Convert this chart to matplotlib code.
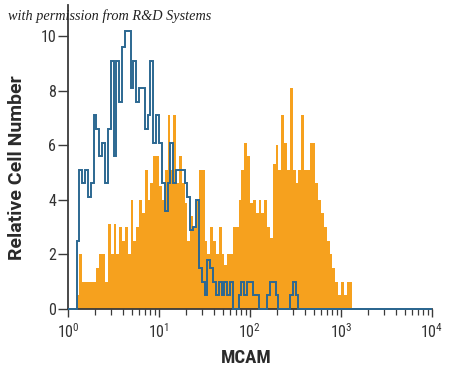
import numpy as np
import matplotlib
matplotlib.use("Agg")
import matplotlib.pyplot as plt
from matplotlib.ticker import LogLocator, NullFormatter

# 128 log-spaced channels from 10^0 to 10^4 (32 per decade)
n_bins = 128
decade_min, decade_max = 0, 4

isotype_blue = [
    0, 0, 0, 2.5, 5.1, 4.6, 5.1, 4.1, 4.6, 7.1, 6.6, 5.6, 6.1, 4.6, 6.6, 9.1,
    5.6, 9.1, 7.6, 9.6, 10.2, 10.2, 8.1, 9.1, 7.6, 8.1, 8.1, 6.6, 7.1, 9.1, 6.1, 7.1,
    6.1, 4.6, 3.6, 4.6, 6.1, 4.6, 5.1, 5.1, 5.1, 4.6, 4.1, 2.9, 3.0, 4.0, 1.5, 1.0,
    0.5, 1.8, 1.5, 1.0, 0.5, 1.0, 0.5, 1.0, 0.5, 1.0, 0, 0, 0.5, 1.0, 0.5, 1.0,
    1.0, 0.5, 0.5, 0, 0, 0, 0.5, 1.0, 1.0, 0.5, 0, 0, 0, 0, 0.5, 1.0,
    0.5, 0, 0, 0, 0, 0, 0, 0, 0, 0, 0, 0, 0, 0, 0, 0,
    0, 0, 0, 0, 0, 0, 0, 0, 0, 0, 0, 0, 0, 0, 0, 0,
    0, 0, 0, 0, 0, 0, 0, 0, 0, 0, 0, 0, 0, 0, 0, 0,
]

mcam_orange = [
    0, 0, 0, 0.5, 2.0, 1.0, 1.0, 1.0, 1.0, 1.0, 1.5, 2.0, 2.0, 1.0, 3.1, 2.0,
    3.1, 2.0, 3.0, 2.5, 3.0, 2.0, 4.0, 2.5, 3.0, 4.0, 3.5, 5.1, 4.0, 4.6, 5.6, 5.6,
    4.5, 4.0, 5.1, 7.1, 5.1, 7.1, 4.6, 5.6, 4.6, 3.9, 2.5, 3.4, 3.0, 4.0, 5.1, 5.1,
    2.5, 2.0, 3.0, 2.5, 2.0, 3.0, 2.0, 1.6, 2.0, 2.0, 3.0, 3.0, 4.0, 5.1, 6.1, 5.6,
    3.9, 4.0, 3.5, 4.0, 3.5, 4.0, 3.0, 2.6, 5.3, 6.0, 5.1, 7.1, 6.1, 5.1, 8.1, 5.1,
    4.6, 5.1, 7.1, 5.1, 5.1, 6.1, 6.1, 4.6, 4.0, 3.5, 3.0, 2.5, 2.0, 1.5, 1.0, 0.5,
    1.0, 0.5, 1.0, 1.0, 0, 0, 0, 0, 0, 0, 0, 0, 0, 0, 0, 0,
    0, 0, 0, 0, 0, 0, 0, 0, 0, 0, 0, 0, 0, 0, 0, 0,
]

y_ticks = [0, 2, 4, 6, 8, 10]
x_ticks = [1, 10, 100, 1000, 10000]
x_tick_labels = [r"$\mathregular{10^{0}}$", r"$\mathregular{10^{1}}$",
                 r"$\mathregular{10^{2}}$", r"$\mathregular{10^{3}}$",
                 r"$\mathregular{10^{4}}$"]
x_label = "MCAM"
y_label = "Relative Cell Number"
credit = "with permission from R&D Systems"

ORANGE = "#F6A11E"
BLUE = "#2C6892"
AXIS = "#3a3a3a"

plt.rcParams["font.family"] = ["Roboto Condensed", "Roboto", "DejaVu Sans"]
plt.rcParams["mathtext.default"] = "regular"

edges = np.logspace(decade_min, decade_max, n_bins + 1)

fig = plt.figure(figsize=(4.5, 3.71), dpi=100)
ax = fig.add_axes([68 / 450, 62 / 371, 364 / 450, 304 / 371])

ax.stairs(mcam_orange, edges, fill=True, color=ORANGE, zorder=2, linewidth=0)
ax.stairs(isotype_blue, edges, color=BLUE, linewidth=1.4, zorder=3,
          clip_on=False, baseline=0)

ax.set_xscale("log")
ax.set_xlim(1, 10000)
ax.set_ylim(0, 11.14)

for s in ["top", "right"]:
    ax.spines[s].set_visible(False)
for s in ["left", "bottom"]:
    ax.spines[s].set_color(AXIS)
    ax.spines[s].set_linewidth(1.3)

ax.set_yticks(y_ticks)
ax.set_yticklabels([str(t) for t in y_ticks])
ax.set_xticks(x_ticks)
ax.set_xticklabels(x_tick_labels)
ax.xaxis.set_minor_locator(LogLocator(base=10, subs=np.arange(2, 10), numticks=20))
ax.xaxis.set_minor_formatter(NullFormatter())

ax.tick_params(axis="y", direction="out", length=7, width=1.0, color=AXIS,
               labelsize=11.5, labelcolor="#333333", pad=1.5)
ax.tick_params(axis="x", which="major", direction="out", length=5.5, width=1.0,
               color=AXIS, labelsize=11.5, labelcolor="#333333", pad=4)
ax.tick_params(axis="x", which="minor", direction="out", length=4, width=0.9,
               color=AXIS)

ax.set_xlabel(x_label, fontsize=13.5, fontweight="bold", color="#2a2a2a")
ax.xaxis.set_label_coords(0.489, -0.13)
ax.set_ylabel(y_label, fontsize=14, fontweight="bold", color="#2a2a2a",
              family=["Roboto", "DejaVu Sans"])
ax.yaxis.set_label_coords(-0.115, 0.465)

fig.text(8 / 450, 1 - 16 / 371, credit, fontsize=10.3, style="italic",
         family=["Liberation Serif", "DejaVu Serif"], color="#222222",
         va="center", ha="left")

fig.savefig("out.png", dpi=100)
